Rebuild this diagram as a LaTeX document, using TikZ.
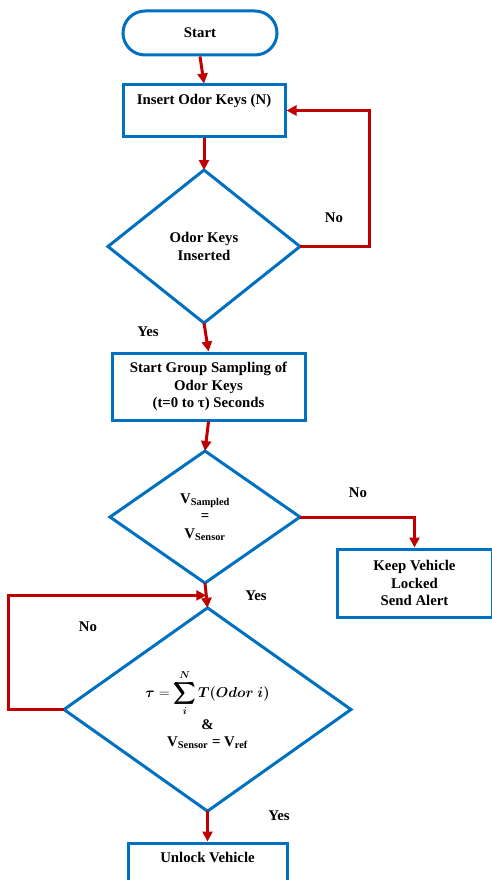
\documentclass[tikz,border=0pt]{standalone}
\usepackage{amsmath, amssymb}
\usepackage{bm}
\usepackage{fontspec}
\setmainfont{Liberation Serif}
\usepackage{tikz}
\usetikzlibrary{positioning, shapes, arrows.meta, calc, shapes.geometric}

\definecolor{boxblue}{RGB}{0,112,192}
\definecolor{linered}{RGB}{192,0,0}

\begin{document}
\begin{tikzpicture}[x=1pt, y=-1pt, >=Stealth,
        every node/.style={font=\fontsize{14.8}{17.5}\selectfont\bfseries, align=center},
        terminal/.style={draw=boxblue, line width=3pt, rounded corners=22pt, inner sep=0pt},
        process/.style={draw=boxblue, line width=3pt, rectangle, inner sep=0pt},
        decision/.style={draw=boxblue, line width=3pt, diamond, inner sep=0pt, outer sep=0pt},
        flow/.style={draw=linered, line width=3pt, -{Triangle[length=10pt, width=10pt]}},
        answer/.style={inner sep=0pt}]
      \useasboundingbox (0,0) rectangle (491,880);

      % Start and key insertion
      \node[terminal, minimum width=154pt, minimum height=44pt] (start) at (200,33) {Start};
      \node[process, minimum width=162pt, minimum height=51pt] (insert) at (204,110.5) {Insert Odor Keys (N)\\\strut};
      \draw[flow] (start.south) -- (insert.north);

      \node[decision, minimum width=192pt, minimum height=153pt] (keysIn) at (204,246.5) {Odor Keys\\Inserted};
      \draw[flow] (insert.south) -- (keysIn.north);
      \draw[flow] (keysIn.east) -- ++(69,0) |- (insert.east);
      \node[answer] (noKeys) at (334,218) {No};
      \node[answer] (yesKeys) at (148,332) {Yes};

      % Group sampling
      \node[process, minimum width=193pt, minimum height=67pt] (sampling) at (208.5,386.5) {Start Group Sampling of\\Odor Keys\\(t=0 to τ) Seconds};
      \draw[flow] (keysIn.south) -- (sampling.north);

      \node[decision, minimum width=190pt, minimum height=132pt] (match) at (205,517) {V\textsubscript{Sampled}\\=\\V\textsubscript{Sensor}};
      \draw[flow] (sampling.south) -- (match.north);

      \node[process, minimum width=155pt, minimum height=68pt] (alert) at (414.5,583) {Keep Vehicle\\Locked\\Send Alert};
      \draw[flow] (match.east) -| (alert.north);
      \node[answer] (noMatch) at (358,493) {No};
      \node[answer] (yesMatch) at (256,596) {Yes};

      % Time and reference check
      \node[decision, minimum width=287pt, minimum height=203pt] (check) at (207.5,709.5)
        {$\displaystyle \bm{\tau} = \bm{\sum_{i}^{N}} \bm{T(Odor\ i)}$\\[2pt]\&\\V\textsubscript{Sensor} = V\textsubscript{ref}};
      \draw[flow] (match.south) -- (check.north);
      \coordinate (rejoin) at ($(match.south)!0.5!(check.north)$);
      \draw[flow] (check.west) -- ++(-56,0) |- (rejoin);
      \node[answer] (noCheck) at (88,627) {No};
      \node[answer] (yesCheck) at (279,816) {Yes};

      \node[process, minimum width=159pt, minimum height=51pt] (unlock) at (207.5,868.5) {Unlock Vehicle\\\strut};
      \draw[flow] (check.south) -- (unlock.north);
    \end{tikzpicture}
\end{document}
